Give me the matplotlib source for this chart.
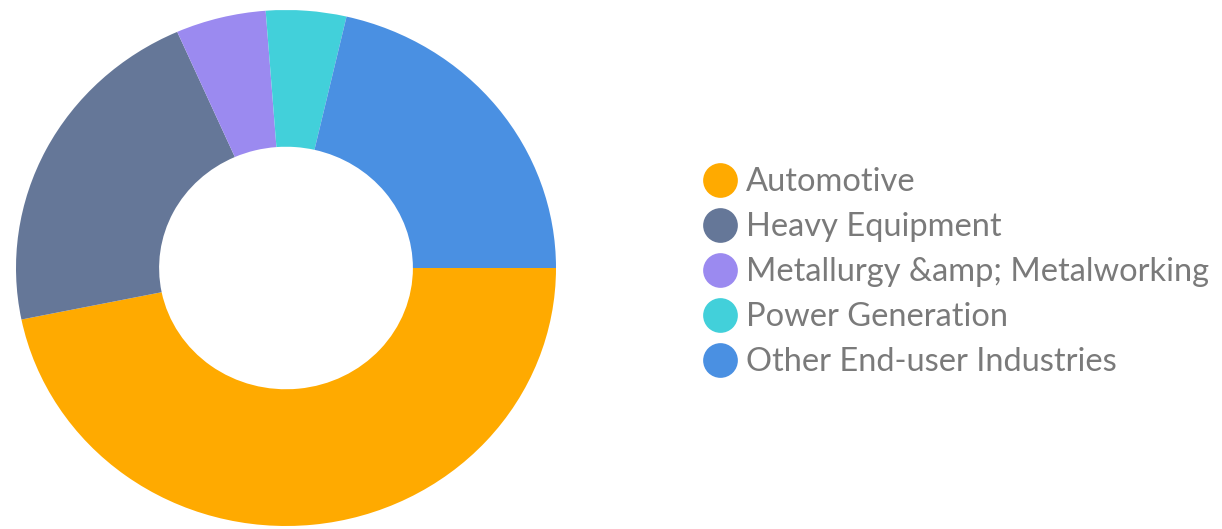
import matplotlib.pyplot as plt
from matplotlib.lines import Line2D

# shares (percent)
categories = ["Automotive", "Heavy Equipment", "Metallurgy &amp; Metalworking",
              "Power Generation", "Other End-user Industries"]
shares = [46.8, 21.6, 5.4, 4.8, 21.4]
colors = ["#FFAA00", "#657798", "#9B8AF0", "#42D0DA", "#4A90E2"]

plt.rcParams['font.family'] = ['Lato', 'DejaVu Sans']

W, H = 1222, 529
fig = plt.figure(figsize=(W / 100, H / 100), dpi=100)

# ring is slightly squashed in the reference, so size the axes in pixels
cx, cy, rx, ry = 286, 268, 270, 258
ax = fig.add_axes([(cx - rx) / W, (H - cy - ry) / H, 2 * rx / W, 2 * ry / H])
ax.pie(shares, colors=colors, startangle=0, counterclock=False,
       radius=1, wedgeprops=dict(width=0.53, linewidth=0))
ax.set_aspect('auto')
ax.set_xlim(-1, 1)
ax.set_ylim(-1, 1)
ax.axis('off')

handles = [Line2D([], [], marker='o', linestyle='none', markersize=25,
                  markerfacecolor=c, markeredgewidth=0) for c in colors]
fig.legend(handles, categories, loc='center left',
           bbox_to_anchor=(702 / W, (H - 272) / H), frameon=False,
           prop={'size': 23.5}, labelcolor='#7a7a7a',
           handlelength=1.1, handletextpad=0.25, labelspacing=0.46,
           borderpad=0, borderaxespad=0)

fig.savefig('out.png', dpi=100)
